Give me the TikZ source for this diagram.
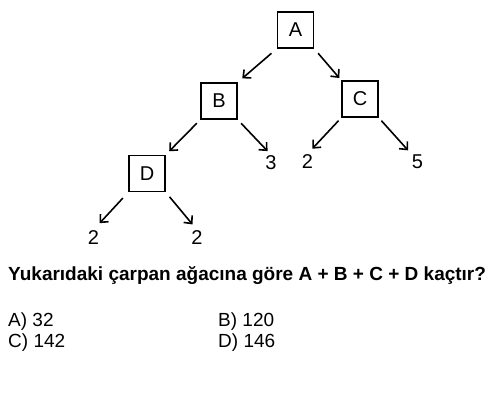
\documentclass[tikz,border=0pt]{standalone}
\usepackage{fontspec}
\setmainfont{Liberation Sans}
\usetikzlibrary{arrows.meta}

\begin{document}
\begin{tikzpicture}[x=1pt, y=-1pt,
    kutu/.style={draw, line width=1.4pt, minimum size=36pt, inner sep=0pt, font=\fontsize{20}{22}\selectfont},
    yaprak/.style={inner sep=1pt, font=\fontsize{20}{22}\selectfont},
    ok/.style={-{Straight Barb[length=6pt, width=11pt]}, line width=1.6pt},
    metin/.style={anchor=base west, inner sep=0pt, font=\fontsize{19}{21}\selectfont}]

    % Page size
    \def\W{504}
    \def\H{400}
    \useasboundingbox (0,0) rectangle (\W,\H);

    % Boxes of the tree
    \node[kutu] (A) at (295.5, 30) {A};
    \node[kutu] (B) at (219, 101) {B};
    \node[kutu] (C) at (360, 99) {C};
    \node[kutu] (D) at (147, 173.5) {D};

    % Leaves
    \node[yaprak] (l3)  at (271, 163) {3};
    \node[yaprak] (l2c) at (307.5, 162) {2};
    \node[yaprak] (l5)  at (417.5, 161.5) {5};
    \node[yaprak] (l2a) at (93.5, 238) {2};
    \node[yaprak] (l2b) at (197, 238) {2};

    % Arrows
    \draw[ok, shorten <=7pt, shorten >=6pt] (A.south west) -- (B.north east);
    \draw[ok, shorten <=6pt, shorten >=3pt] (A.south east) -- (C.north west);
    \draw[ok, shorten <=5pt, shorten >=5pt] (B.south west) -- (D.north east);
    \draw[ok, shorten <=5pt, shorten >=5pt] (B.south east) -- (l3.north);
    \draw[ok, shorten <=4pt, shorten >=7pt] (C.south west) -- (l2c.north);
    \draw[ok, shorten <=4pt, shorten >=4pt] (C.south east) -- (l5.north west);
    \draw[ok, shorten <=8pt, shorten >=9pt] (D.south west) -- (l2a.north);
    \draw[ok, shorten <=6pt, shorten >=7pt] (D.south east) -- (l2b.north);

    % Question and choices
    \node[metin, font=\fontsize{19}{21}\selectfont\bfseries] (soru) at (8, 280) {Yukarıdaki çarpan ağacına göre A + B + C + D kaçtır?};
    \node[metin] (sa) at (8, 326) {A) 32};
    \node[metin] (sb) at (218, 326) {B) 120};
    \node[metin] (sc) at (8, 347) {C) 142};
    \node[metin] (sd) at (218, 347) {D) 146};

\end{tikzpicture}
\end{document}
